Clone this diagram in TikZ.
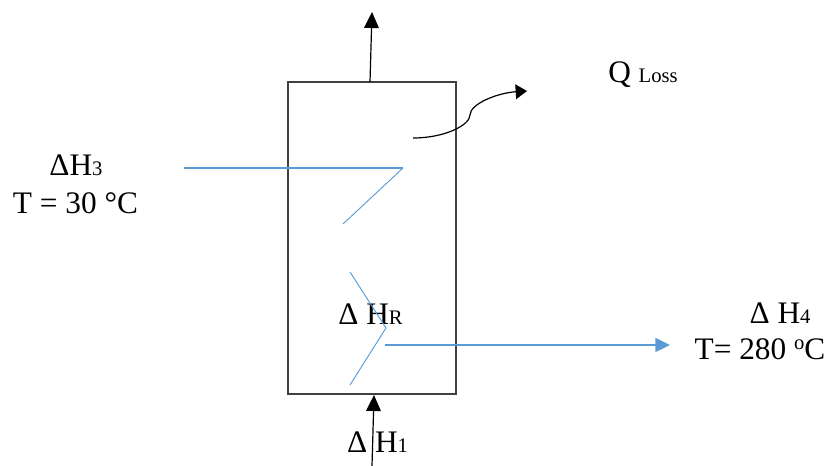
\documentclass[tikz,border=0pt]{standalone}
\usepackage{fontspec}
\setmainfont{Liberation Serif}
\usetikzlibrary{arrows.meta,positioning}
\definecolor{streamblue}{RGB}{91,155,213}
\newcommand{\smalltext}[1]{{\fontsize{15.5}{18}\selectfont #1}}
\begin{document}
\begin{tikzpicture}[x=.75pt,y=-.75pt,
			box node/.style={
				rectangle, draw=black!75, line width=1pt, inner sep=0pt,
				minimum width=126pt, minimum height=234pt},
			label node/.style={
				inner sep=0pt, anchor=base, text=black,
				font=\fontsize{23.5}{28}\selectfont},
			black arrow/.style={-{Triangle[length=12pt,width=11pt]}, line width=.9pt, black},
			blue line/.style={line width=1pt, streamblue},
			thin blue/.style={line width=.7pt, streamblue}
			]
			\useasboundingbox (0,0) rectangle (824,466);
			\node[box node] (1) at (372,238) {};
			\node[label node] (2) at (643,83) {Q \smalltext{Loss}};
			\node[label node] (3) at (76,176) {ΔH\smalltext{3}};
			\node[label node] (4) at (75.5,214) {T = 30 °C};
			\node[label node] (5) at (370.5,325) {Δ H\smalltext{R}};
			\node[label node] (6) at (780,324) {Δ H\smalltext{4}};
			\node[label node] (7) at (760,359) {T= 280 \raisebox{7pt}{\smalltext{o}}C};
			\node[label node] (8) at (377.5,452) {Δ H\smalltext{1}};
			
			\coordinate (top out) at (372,12);
			\coordinate (top in) at (370,82);
			\coordinate (bottom in) at (372,466);
			\coordinate (bottom out) at (374,395);
			\coordinate (loss start) at (413,138);
			\coordinate (loss end) at (527,91);
			\coordinate (feed start) at (184,168);
			\coordinate (feed corner) at (403,168);
			\coordinate (feed end) at (343,224);
			\coordinate (baffle top) at (350,272);
			\coordinate (baffle corner) at (386,328);
			\coordinate (baffle bottom) at (350,385);
			\coordinate (product start) at (385,345);
			\coordinate (product end) at (670,345);
			
			\draw[black arrow] (top in) -- (top out);
			\draw[black arrow] (bottom in) -- (bottom out);
			\draw[black arrow,-{Triangle[length=8.5pt,width=11pt]}] (loss start) .. controls (445,138) and (470,125) .. (470,115)
				.. controls (470,104) and (497,93) .. (loss end);
			\draw[blue line] (feed start) -- (feed corner);
			\draw[thin blue] (feed corner) -- (feed end);
			\draw[thin blue] (baffle top) -- (baffle corner) -- (baffle bottom);
			\draw[blue line,-{Triangle[length=11pt,width=10.5pt]}] (product start) -- (product end);
		\end{tikzpicture}
\end{document}
